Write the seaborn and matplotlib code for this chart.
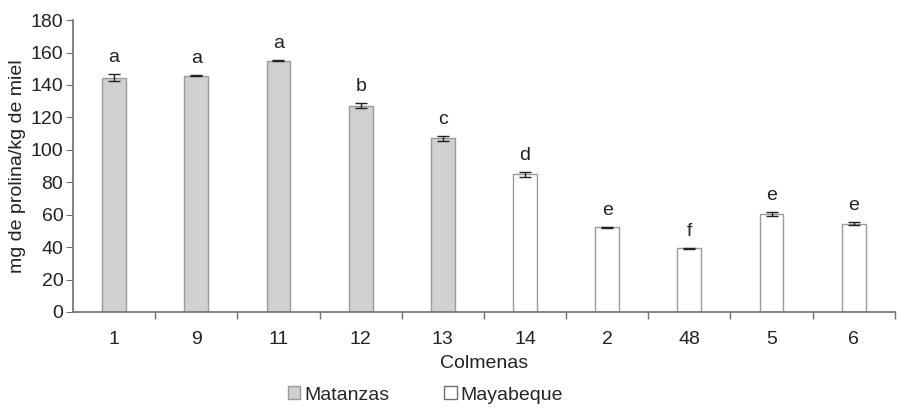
import matplotlib
matplotlib.use("Agg")
import matplotlib.pyplot as plt
import seaborn as sns
import pandas as pd
from matplotlib.patches import Patch

colmenas = ["1", "9", "11", "12", "13", "14", "2", "48", "5", "6"]
region = ["Matanzas"] * 5 + ["Mayabeque"] * 5
prolina = [144.6, 145.8, 155.0, 127.2, 107.0, 85.0, 52.2, 39.2, 60.4, 54.5]
error = [2.0, 0.5, 0.3, 1.5, 1.5, 1.5, 0.3, 0.3, 1.2, 0.8]
letras = ["a", "a", "a", "b", "c", "d", "e", "f", "e", "e"]

df = pd.DataFrame({"Colmenas": colmenas, "Region": region, "Prolina": prolina})

sns.set_style("white")
plt.rcParams["font.family"] = ["Liberation Sans", "DejaVu Sans"]
FS = 14

fig = plt.figure(figsize=(9.05, 4.11), dpi=100)
ax = fig.add_axes([0.0807, 0.241, 0.908, 0.710])

palette = {"Matanzas": "#d0d0d0", "Mayabeque": "#ffffff"}
sns.barplot(data=df, x="Colmenas", y="Prolina", hue="Region", order=colmenas,
            palette=palette, dodge=False, width=0.29, edgecolor="#9a9a9a",
            linewidth=1.0, legend=False, ax=ax)

xs = list(range(len(colmenas)))
ax.errorbar(xs, prolina, yerr=error, fmt="none", ecolor="#222222",
            elinewidth=1.0, capsize=4, capthick=1.0)

for x, v, e, l in zip(xs, prolina, error, letras):
    ax.text(x, v + e + 5, l, ha="center", va="bottom", fontsize=FS, color="#222222")

ax.set_xlim(-0.5, len(colmenas) - 0.5)
ax.set_ylim(0, 180)
ax.set_yticks(range(0, 181, 20))
ax.set_xlabel("Colmenas", fontsize=FS, color="#222222", labelpad=5)
ax.set_ylabel("mg de prolina/kg de miel", fontsize=FS, color="#222222", labelpad=3)

for s in ["top", "right"]:
    ax.spines[s].set_visible(False)
for s in ["left", "bottom"]:
    ax.spines[s].set_color("#707070")
    ax.spines[s].set_linewidth(1.2)

ax.tick_params(axis="y", which="major", left=True, length=5, color="#707070",
               labelsize=FS, labelcolor="#222222", pad=2)
ax.tick_params(axis="x", which="major", bottom=False, length=0,
               labelsize=FS, labelcolor="#222222", pad=14)
ax.set_xticks([i + 0.5 for i in range(len(colmenas))], minor=True)
ax.tick_params(axis="x", which="minor", bottom=True, length=5, color="#707070", width=1.0)

handles = [Patch(facecolor="#d0d0d0", edgecolor="#9a9a9a", label="Matanzas"),
           Patch(facecolor="#ffffff", edgecolor="#707070", label="Mayabeque")]
fig.legend(handles=handles, loc="lower center", bbox_to_anchor=(0.47, -0.025), ncol=2,
           frameon=False, fontsize=FS, handlelength=0.65, handleheight=0.65,
           handletextpad=0.2, columnspacing=2.8)

fig.savefig("out.png", dpi=100)
